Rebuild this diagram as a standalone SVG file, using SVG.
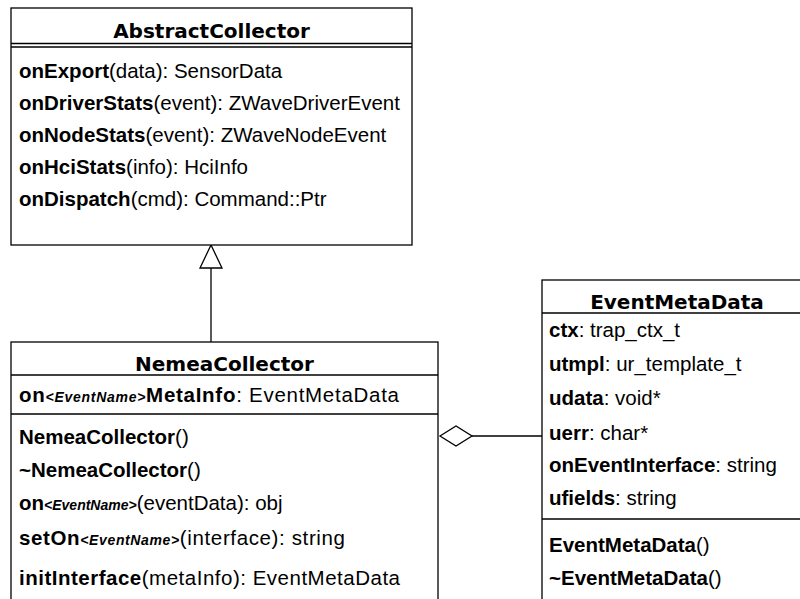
<svg xmlns="http://www.w3.org/2000/svg" width="800" height="599" viewBox="0 0 800 599">
<style>
.box{fill:#fff;stroke:#000;stroke-width:1.3}
.ln{stroke:#000;stroke-width:1.3;fill:none}
.title{font-family:"DejaVu Sans",sans-serif;font-weight:bold;font-size:20px;text-anchor:middle}
.t{font-family:"Liberation Sans",Arial,sans-serif;font-size:20.5px}
.b{font-weight:bold}
.i{font-weight:bold;font-style:italic;font-size:14px}
</style>
<rect width="800" height="599" fill="#fff"/>
<g id="connectors">
<line class="ln" x1="211" y1="268" x2="211" y2="342"/>
<polygon class="box" points="211,245 200,268 222,268"/>
<line class="ln" x1="472" y1="436" x2="542" y2="436"/>
<polygon class="box" points="440,436 456,426 472,436 456,446"/>
</g>
<g id="AbstractCollector">
<rect class="box" x="11" y="8" width="401" height="237"/>
<text class="title" x="211.5" y="38">AbstractCollector</text>
<line class="ln" x1="11" y1="43.5" x2="412" y2="43.5"/>
<line class="ln" x1="11" y1="47" x2="412" y2="47"/>
<text class="t" x="19" y="78"><tspan class="b">onExport</tspan>(data): SensorData</text>
<text class="t" x="19" y="110"><tspan class="b">onDriverStats</tspan>(event): ZWaveDriverEvent</text>
<text class="t" x="19" y="142"><tspan class="b">onNodeStats</tspan>(event): ZWaveNodeEvent</text>
<text class="t" x="19" y="174"><tspan class="b">onHciStats</tspan>(info): HciInfo</text>
<text class="t" x="19" y="206"><tspan class="b">onDispatch</tspan>(cmd): Command::Ptr</text>
</g>
<g id="NemeaCollector">
<rect class="box" x="11" y="342" width="427" height="280"/>
<text class="title" x="224.5" y="371">NemeaCollector</text>
<line class="ln" x1="11" y1="375" x2="438" y2="375"/>
<text class="t" x="19" y="402" textLength="380" lengthAdjust="spacing"><tspan class="b">on</tspan><tspan class="i">&lt;EventName&gt;</tspan><tspan class="b">MetaInfo</tspan>: EventMetaData</text>
<line class="ln" x1="11" y1="414" x2="438" y2="414"/>
<text class="t" x="19" y="444"><tspan class="b">NemeaCollector</tspan>()</text>
<text class="t" x="19" y="477"><tspan class="b">~NemeaCollector</tspan>()</text>
<text class="t" x="19" y="510"><tspan class="b">on</tspan><tspan class="i">&lt;EventName&gt;</tspan>(eventData): obj</text>
<text class="t" x="19" y="545" textLength="326" lengthAdjust="spacing"><tspan class="b">setOn</tspan><tspan class="i">&lt;EventName&gt;</tspan>(interface): string</text>
<text class="t" x="19" y="585" textLength="381" lengthAdjust="spacing"><tspan class="b">initInterface</tspan>(metaInfo): EventMetaData</text>
</g>
<g id="EventMetaData">
<rect class="box" x="542" y="280" width="280" height="340"/>
<text class="title" x="677" y="309">EventMetaData</text>
<line class="ln" x1="542" y1="313" x2="800" y2="313"/>
<text class="t" x="549" y="337"><tspan class="b">ctx</tspan>: trap_ctx_t</text>
<text class="t" x="549" y="371"><tspan class="b">utmpl</tspan>: ur_template_t</text>
<text class="t" x="549" y="405"><tspan class="b">udata</tspan>: void*</text>
<text class="t" x="549" y="440"><tspan class="b">uerr</tspan>: char*</text>
<text class="t" x="549" y="472"><tspan class="b">onEventInterface</tspan>: string</text>
<text class="t" x="549" y="505"><tspan class="b">ufields</tspan>: string</text>
<line class="ln" x1="542" y1="519" x2="800" y2="519"/>
<text class="t" x="549" y="552"><tspan class="b">EventMetaData</tspan>()</text>
<text class="t" x="549" y="585"><tspan class="b">~EventMetaData</tspan>()</text>
</g>
</svg>
